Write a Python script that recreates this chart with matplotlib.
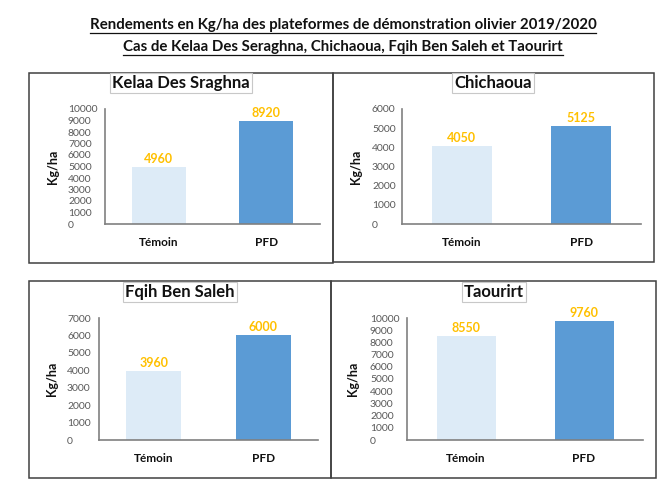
import matplotlib
matplotlib.use("Agg")
import matplotlib.pyplot as plt
from matplotlib.patches import Rectangle

plt.rcParams['font.family'] = ['Lato', 'DejaVu Sans']

# data
categories = ['Témoin', 'PFD']
sites = ['Kelaa Des Sraghna', 'Chichaoua', 'Fqih Ben Saleh', 'Taourirt']
temoin = [4960, 4050, 3960, 8550]
pfd = [8920, 5125, 6000, 9760]
ymax = [10000, 6000, 7000, 10000]

title1 = 'Rendements en Kg/ha des plateformes de démonstration olivier 2019/2020'
title2 = 'Cas de Kelaa Des Seraghna, Chichaoua, Fqih Ben Saleh et Taourirt'

W, H = 671, 492
fig = plt.figure(figsize=(W / 100, H / 100), dpi=100)

c_tem = '#DDEBF7'
c_pfd = '#5B9BD5'
c_lab = '#FFC000'

# pixel layout: box (x0, y0, x1, y1), axes (left, right, top, bottom), title centre, ylabel x, tick pad px
layout = [
    ((29, 73, 333, 263), (105, 320, 109, 224), (181, 83), 53, 37),
    ((333, 73, 654, 262), (402, 641, 109, 224), (493, 83), 356, 30),
    ((29, 281, 331, 478), (99, 318, 318, 440), (180, 292), 52, 32),
    ((331, 281, 656, 478), (407, 643, 318, 440), (494, 292), 353, 37),
]

def fx(x):
    return x / W

def fy(y):
    return 1 - y / H

# main title, underlined
for txt, y, xc in [(title1, 25, 343), (title2, 47, 343)]:
    fig.text(fx(xc), fy(y), txt, ha='center', va='center',
             fontsize=10.8, fontweight='bold', color='#111111')
fig.canvas.draw()
r = fig.canvas.get_renderer()
for t in list(fig.texts):
    bb = t.get_window_extent(r)
    yl = bb.y0 - 1
    fig.add_artist(plt.Line2D([bb.x0 / W, bb.x1 / W], [yl / H, yl / H],
                              transform=fig.transFigure, color='#111111', lw=0.9))

for i, (box, ax_px, tc, ylx, tpad) in enumerate(layout):
    x0, y0, x1, y1 = box
    fig.patches.append(Rectangle((fx(x0), fy(y1)), fx(x1) - fx(x0), fy(y0) - fy(y1),
                                 transform=fig.transFigure, fill=False,
                                 edgecolor='#404040', lw=1.1))
    l, rr, top, bot = ax_px
    ax = fig.add_axes([fx(l), fy(bot), fx(rr) - fx(l), fy(top) - fy(bot)])
    vals = [temoin[i], pfd[i]]
    ax.bar([0, 1], vals, width=0.5, color=[c_tem, c_pfd])
    ax.set_xlim(-0.5, 1.5)
    ax.set_ylim(0, ymax[i])
    ax.set_yticks(range(0, ymax[i] + 1, 1000))
    ax.set_xticks([0, 1])
    ax.set_xticklabels(categories, fontsize=8.5, fontweight='bold', color='#111111')
    ax.tick_params(axis='y', length=0, labelsize=7.5, labelcolor='#595959', pad=tpad * 0.72)
    ax.tick_params(axis='x', length=0, pad=9)
    for yl in ax.get_yticklabels():
        yl.set_horizontalalignment('left')
    for s in ['top', 'right']:
        ax.spines[s].set_visible(False)
    for s in ['left', 'bottom']:
        ax.spines[s].set_color('#808080')
        ax.spines[s].set_linewidth(1.2)
    ax.patch.set_alpha(0)
    for xi, v in enumerate(vals):
        ax.annotate(str(v), (xi, v), xytext=(0, 1.5), textcoords='offset points',
                    ha='center', va='bottom', fontsize=9, fontweight='bold', color=c_lab)
    fig.text(fx(ylx), fy((top + bot) / 2), 'Kg/ha', rotation=90, ha='center', va='center',
             fontsize=9, fontweight='bold', color='#111111')
    fig.text(fx(tc[0]), fy(tc[1]), sites[i], ha='center', va='center',
             fontsize=12, fontweight='bold', color='#111111',
             bbox=dict(boxstyle='square,pad=0.12', facecolor='white', edgecolor='#c8c8c8', lw=0.8))

fig.savefig('out.png', dpi=100)
